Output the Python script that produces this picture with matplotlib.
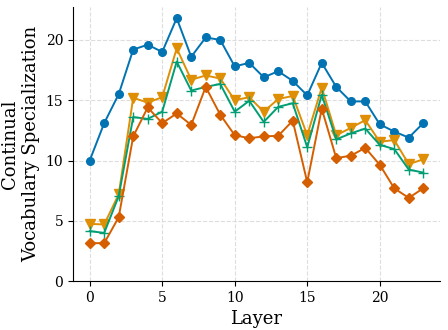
import matplotlib
matplotlib.use("Agg")
import matplotlib.pyplot as plt

layers = list(range(24))
blue = [10.0, 13.1, 15.5, 19.2, 19.6, 19.0, 21.8, 18.6, 20.2, 20.0, 17.8, 18.1,
        16.9, 17.4, 16.6, 15.4, 18.1, 16.1, 14.9, 14.9, 13.0, 12.4, 11.9, 13.1]
orange = [4.75, 4.7, 7.2, 15.2, 14.8, 15.25, 19.3, 16.7, 17.05, 16.8, 15.0, 15.25,
          14.05, 15.1, 15.35, 12.1, 16.05, 12.1, 12.7, 13.35, 11.55, 11.7, 9.7, 10.1]
green = [4.15, 4.0, 7.05, 13.6, 13.45, 14.05, 18.2, 15.8, 16.1, 16.35, 14.05, 14.95,
         13.2, 14.45, 14.75, 11.1, 15.45, 11.75, 12.25, 12.65, 11.3, 10.95, 9.25, 9.0]
red = [3.15, 3.15, 5.3, 12.0, 14.4, 13.1, 13.9, 12.95, 16.1, 13.8, 12.1, 11.85,
       12.0, 12.05, 13.3, 8.2, 14.3, 10.2, 10.4, 11.05, 9.65, 7.7, 6.9, 7.7]

plt.rcParams['font.family'] = 'DejaVu Serif'
fig = plt.figure(figsize=(4.48, 3.30), dpi=100)
ax = fig.add_axes([0.163, 0.148, 0.819, 0.831])

ax.plot(layers, blue, color='#0173b2', marker='o', markersize=5.5, linewidth=1.4)
ax.plot(layers, orange, color='#de8f05', marker='v', markersize=6.5, linewidth=1.4)
ax.plot(layers, green, color='#029e73', marker='+', markersize=6.5, linewidth=1.4)
ax.plot(layers, red, color='#d55e00', marker='D', markersize=5.5, linewidth=1.4)

ax.set_ylim(bottom=0)
ax.set_xticks([0, 5, 10, 15, 20])
ax.set_yticks([0, 5, 10, 15, 20])
ax.grid(True, linestyle='--', color='#dddddd', linewidth=0.8)
ax.set_axisbelow(True)
for s in ['top', 'right']:
    ax.spines[s].set_visible(False)
ax.tick_params(labelsize=10)
ax.set_xlabel('Layer', fontsize=13)
ax.set_ylabel('Continual\nVocabulary Specialization', fontsize=13)

fig.savefig('out.png', dpi=100)
